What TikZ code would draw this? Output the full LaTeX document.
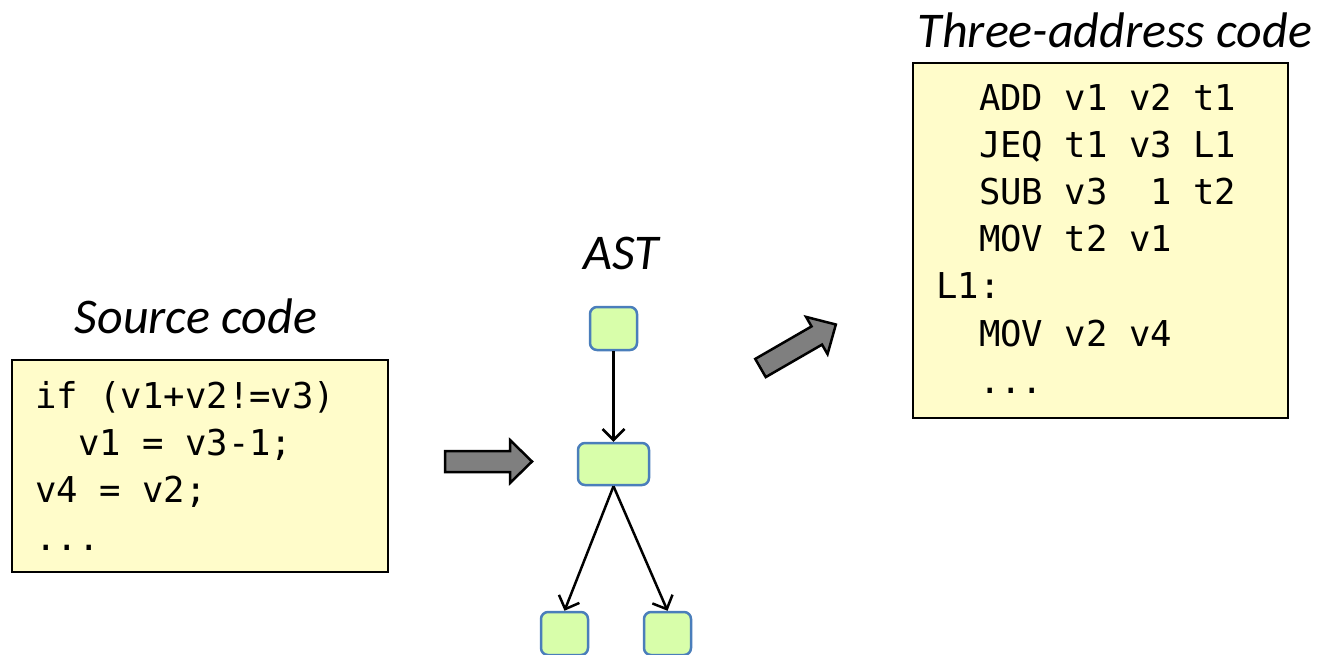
\documentclass[tikz,border=0pt]{standalone}
\usepackage{fontspec}
\setmainfont{Carlito}
\newfontfamily\codefont{DejaVu Sans Mono}
\usetikzlibrary{arrows.meta}
\definecolor{boxyellow}{HTML}{FFFCCA}
\definecolor{nodegreen}{HTML}{D8FEAA}
\definecolor{nodeblue}{HTML}{4A7EBB}
\definecolor{blockgray}{HTML}{7F7F7F}
\tikzset{
  codebox/.style={draw=black, line width=2pt, fill=boxyellow, inner sep=0pt},
  codeline/.style={anchor=base west, inner sep=0pt, font=\codefont\fontsize{35.6}{40}\selectfont},
  heading/.style={inner sep=0pt, font=\itshape\fontsize{50}{58}\selectfont},
  astnode/.style={draw=nodeblue, line width=2.5pt, fill=nodegreen, rounded corners=7pt, inner sep=0pt},
  treeedge/.style={line width=2.5pt, -{Straight Barb[length=11pt, width=22pt, line width=2.5pt]}},
  blockarrow/.style={draw=black, line width=2.5pt, fill=blockgray, line join=miter}
}
\begin{document}
\begin{tikzpicture}[x=1pt, y=1pt]
\useasboundingbox (0,0) rectangle (1319,-654);

% Source code
\node[codebox, minimum width=376pt, minimum height=212pt] (src) at (200,-466) {};
\node[heading] (srclabel) at (196,-316) {Source code};
\node[codeline] (s1) at (35,-408) {if (v1+v2!=v3)};
\node[codeline] (s2) at (35,-455.3) {\phantom{00}v1 = v3-1;};
\node[codeline] (s3) at (35,-502.6) {v4 = v2;};
\node[codeline] (s4) at (35,-550) {...};

% Three-address code
\node[codebox, minimum width=375pt, minimum height=355pt] (tac) at (1100.5,-240.5) {};
\node[heading] (taclabel) at (1115,-30) {Three-address code};
\node[codeline] (t1) at (936,-110) {\phantom{00}ADD v1 v2 t1};
\node[codeline] (t2) at (936,-157) {\phantom{00}JEQ t1 v3 L1};
\node[codeline] (t3) at (936,-204) {\phantom{00}SUB v3\phantom{0} 1 t2};
\node[codeline] (t4) at (936,-251) {\phantom{00}MOV t2 v1};
\node[codeline] (t5) at (936,-298) {L1:};
\node[codeline] (t6) at (936,-346) {\phantom{00}MOV v2 v4};
\node[codeline] (t7) at (936,-393) {\phantom{00}...};

% AST
\node[heading] (astlabel) at (621,-253) {AST};
\node[astnode, minimum width=47pt, minimum height=43pt] (root) at (613.5,-328.5) {};
\node[astnode, minimum width=71pt, minimum height=42pt] (mid) at (613.5,-464) {};
\node[astnode, minimum width=47pt, minimum height=43pt] (left) at (564.5,-633.5) {};
\node[astnode, minimum width=47pt, minimum height=43pt] (right) at (667.5,-633.5) {};
\draw[treeedge] (root.south) -- (mid.north);
\draw[treeedge] (mid.south) -- (left.north);
\draw[treeedge] (mid.south) -- (right.north);

% Block arrows
\draw[blockarrow] (445,-451) -- (510,-451) -- (510,-440) -- (532,-461.5) -- (510,-483) -- (510,-472) -- (445,-472) -- cycle;
\begin{scope}[shift={(760.5,-368)}, rotate=30]
\draw[blockarrow] (0,10.5) -- (65,10.5) -- (65,21.5) -- (87,0) -- (65,-21.5) -- (65,-10.5) -- (0,-10.5) -- cycle;
\end{scope}
\end{tikzpicture}
\end{document}
